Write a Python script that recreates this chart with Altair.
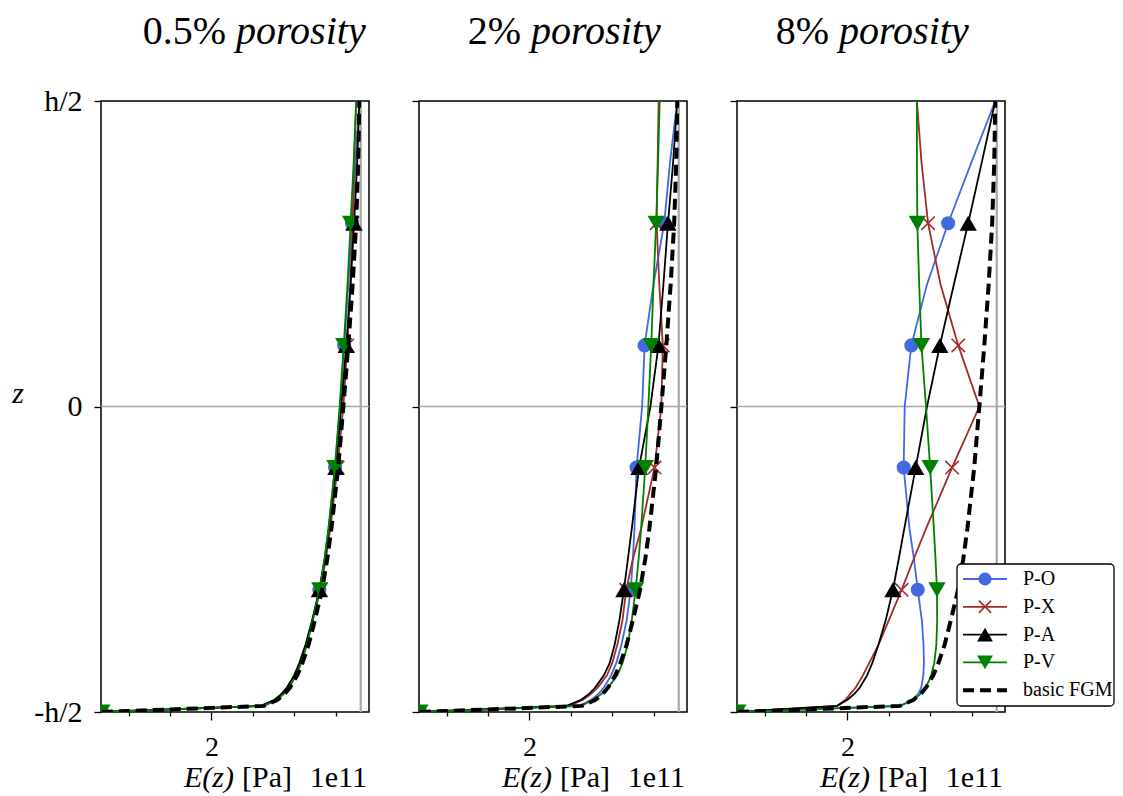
import altair as alt
import pandas as pd

FONT = "Liberation Serif"

# z / h positions of the sampled points
Z = [-0.5, -0.49, -0.48, -0.47, -0.46, -0.44, -0.42, -0.39, -0.35, -0.3,
     -0.25, -0.2, -0.1, 0.0, 0.1, 0.2, 0.3, 0.4, 0.5]
MARK_Z = [-0.5, -0.3, -0.1, 0.1, 0.3]

# basic FGM (same in every panel), E in units of 1e11 Pa
FGM = [1.47, 2.255, 2.32, 2.355, 2.38, 2.415, 2.44, 2.47, 2.50, 2.535,
       2.56, 2.58, 2.613, 2.638, 2.662, 2.683, 2.70, 2.71, 2.715]

# 0.5 % porosity
PO_05 = [1.47, 2.25, 2.313, 2.347, 2.371, 2.405, 2.43, 2.458, 2.488, 2.522,
         2.547, 2.566, 2.598, 2.622, 2.642, 2.662, 2.68, 2.697, 2.715]
PX_05 = [1.47, 2.245, 2.31, 2.343, 2.368, 2.402, 2.428, 2.458, 2.49, 2.527,
         2.553, 2.575, 2.61, 2.638, 2.657, 2.672, 2.683, 2.69, 2.70]
PA_05 = [1.47, 2.24, 2.305, 2.34, 2.365, 2.40, 2.425, 2.455, 2.487, 2.522,
         2.548, 2.568, 2.602, 2.628, 2.652, 2.673, 2.69, 2.705, 2.715]
PV_05 = [1.47, 2.255, 2.318, 2.352, 2.376, 2.41, 2.434, 2.462, 2.49, 2.524,
         2.547, 2.566, 2.597, 2.62, 2.64, 2.658, 2.673, 2.688, 2.70]

# 2 % porosity
PO_2 = [1.47, 2.24, 2.30, 2.335, 2.36, 2.395, 2.42, 2.445, 2.47, 2.49,
        2.50, 2.508, 2.518, 2.545, 2.557, 2.60, 2.652, 2.68, 2.715]
PX_2 = [1.47, 2.19, 2.26, 2.30, 2.33, 2.375, 2.40, 2.425, 2.45, 2.468,
        2.50, 2.54, 2.605, 2.638, 2.645, 2.628, 2.615, 2.62, 2.625]
PA_2 = [1.47, 2.18, 2.25, 2.29, 2.318, 2.36, 2.388, 2.412, 2.435, 2.457,
        2.476, 2.495, 2.53, 2.585, 2.624, 2.648, 2.67, 2.695, 2.715]
PV_2 = [1.47, 2.25, 2.31, 2.35, 2.38, 2.425, 2.45, 2.475, 2.495, 2.513,
        2.528, 2.54, 2.56, 2.575, 2.589, 2.60, 2.613, 2.622, 2.63]

# 8 % porosity
PO_8 = [1.47, 2.255, 2.317, 2.343, 2.357, 2.367, 2.37, 2.368, 2.36, 2.34,
        2.322, 2.30, 2.272, 2.277, 2.309, 2.385, 2.487, 2.60, 2.715]
PX_8 = [1.47, 1.95, 1.99, 2.015, 2.04, 2.075, 2.105, 2.15, 2.20, 2.262,
        2.32, 2.38, 2.506, 2.638, 2.536, 2.45, 2.39, 2.358, 2.336]
PA_8 = [1.47, 1.95, 2.0, 2.035, 2.06, 2.095, 2.12, 2.15, 2.185, 2.22,
        2.248, 2.275, 2.33, 2.385, 2.447, 2.515, 2.584, 2.65, 2.715]
PV_8 = [1.47, 2.255, 2.32, 2.355, 2.38, 2.405, 2.42, 2.43, 2.434, 2.433,
        2.426, 2.418, 2.40, 2.38, 2.358, 2.347, 2.338, 2.336, 2.336]

PANELS = [
    [PO_05, PX_05, PA_05, PV_05, FGM],
    [PO_2, PX_2, PA_2, PV_2, FGM],
    [PO_8, PX_8, PA_8, PV_8, FGM],
]
PANEL_PCT = ["0.5%", "2%", "8%"]
SERIES = ["P-O", "P-X", "P-A", "P-V", "basic FGM"]
COLORS = {"P-O": "#4169e1", "P-X": "#a52a2a", "P-A": "#000000",
          "P-V": "#008000", "basic FGM": "#000000"}
X_PATH = "M-1,-1L1,1M-1,1L1,-1"
SHAPES = {"P-O": "circle", "P-X": X_PATH, "P-A": "triangle-up", "P-V": "triangle-down"}
SIZES = {"P-O": 200, "P-X": 180, "P-A": 300, "P-V": 300}

XTICKS = [1.6, 1.8, 2.0, 2.2, 2.4, 2.6]
YTICKS = [-0.5, 0.0, 0.5]
XDOM = [1.466, 2.762]
YDOM = [-0.5, 0.5]
ZERO_LINE = [0.0]
EC_LINE = [2.722]

rows = []
for pi, pdata in enumerate(PANELS):
    for sname, vals in zip(SERIES, pdata):
        for z, e in zip(Z, vals):
            rows.append({"panel": pi, "series": sname, "z": z, "E": e,
                         "mk": z in MARK_Z})
df = pd.DataFrame(rows)

W, H = 268, 611

XS = alt.Scale(domain=XDOM, nice=False, zero=False)
YS = alt.Scale(domain=YDOM, nice=False, zero=False)

XAX = alt.Axis(values=XTICKS, labelExpr="datum.value == 2 ? '2' : ''",
               tickSize={"condition": {"test": "datum.value == 2", "value": 8}, "value": 4},
               labelFont=FONT, labelFontSize=28, labelColor="black",
               labelPadding=13, tickColor="black", tickWidth=1.3,
               domain=False, grid=False, title=None)


def yaxis(labels):
    return alt.Axis(values=YTICKS,
                    labelExpr="datum.value > 0.25 ? 'h/2' : (datum.value < -0.25 ? '-h/2' : '0')",
                    labels=labels, tickSize=7, labelFont=FONT, labelFontSize=30,
                    labelColor="black", labelPadding=12, tickColor="black",
                    tickWidth=1.3, domain=False, grid=False, title=None)


def one(**kw):
    return alt.Chart(pd.DataFrame([kw]))


def make_panel(pi):
    d = df[df.panel == pi]
    X = alt.X("E:Q", scale=XS, axis=XAX)
    Y = alt.Y("z:Q", scale=YS, axis=yaxis(pi == 0))
    layers = []
    layers.append(alt.Chart(pd.DataFrame({"z": ZERO_LINE}))
                  .mark_rule(color="#a8a8a8", strokeWidth=1.4).encode(y=Y))
    layers.append(alt.Chart(pd.DataFrame({"E": EC_LINE}))
                  .mark_rule(color="#a8a8a8", strokeWidth=2.2).encode(x=X))
    for s in SERIES:
        ds = d[d.series == s]
        if s == "basic FGM":
            layers.append(alt.Chart(ds).mark_line(color="black", strokeWidth=4,
                                                  strokeDash=[11, 6], clip=True)
                          .encode(x=X, y=Y, order=alt.Order("z:Q")))
            continue
        layers.append(alt.Chart(ds).mark_line(color=COLORS[s], strokeWidth=1.8, clip=True)
                      .encode(x=X, y=Y, order=alt.Order("z:Q")))
        pts = ds[ds.mk]
        if s == "P-X":
            pm = alt.Chart(pts).mark_point(shape=SHAPES[s], size=SIZES[s], filled=False,
                                           stroke=COLORS[s], strokeWidth=1.6,
                                           opacity=1, clip=True)
        else:
            pm = alt.Chart(pts).mark_point(shape=SHAPES[s], size=SIZES[s], filled=True,
                                           fill=COLORS[s], opacity=1, clip=True)
        layers.append(pm.encode(x=X, y=Y))

    # panel title: "<pct>" upright + "porosity" italic
    anchors = [(125, 135), (102, 112), (92, 102)]
    a1, a2 = anchors[pi]
    layers.append(one(t=PANEL_PCT[pi]).mark_text(font=FONT, fontSize=40, align="right",
                                                 baseline="alphabetic", color="black")
                  .encode(x=alt.value(a1), y=alt.value(-57), text="t:N"))
    layers.append(one(t="porosity").mark_text(font=FONT, fontSize=40, fontStyle="italic",
                                              align="left", baseline="alphabetic", color="black")
                  .encode(x=alt.value(a2), y=alt.value(-57), text="t:N"))
    # x axis label
    layers.append(one(t="E(z)").mark_text(font=FONT, fontSize=30, fontStyle="italic",
                                          align="right", baseline="middle", color="black")
                  .encode(x=alt.value(133), y=alt.value(677), text="t:N"))
    layers.append(one(t="[Pa]").mark_text(font=FONT, fontSize=30, align="left",
                                          baseline="middle", color="black")
                  .encode(x=alt.value(141), y=alt.value(677), text="t:N"))
    layers.append(one(t="1e11").mark_text(font=FONT, fontSize=30, align="right",
                                          baseline="middle", color="black")
                  .encode(x=alt.value(266), y=alt.value(677), text="t:N"))

    if pi == 0:
        layers.append(one(t="z").mark_text(font=FONT, fontSize=30, fontStyle="italic",
                                           align="center", baseline="middle", color="black")
                      .encode(x=alt.value(-83), y=alt.value(293), text="t:N"))
        # invisible anchor fixing the top-left corner of the page
        layers.append(one(t="a").mark_rule(opacity=0)
                      .encode(x=alt.value(-100), x2=alt.value(-99), y=alt.value(-100)))

    if pi == 2:
        layers.append(one(t="box").mark_rect(fill="white", stroke="black", strokeWidth=1.3,
                                             cornerRadius=4)
                      .encode(x=alt.value(220), x2=alt.value(377),
                              y=alt.value(463), y2=alt.value(605)))
        for i, s in enumerate(SERIES):
            yy = 478 + i * 27.8
            if s == "basic FGM":
                layers.append(one(t=s).mark_rule(color="black", strokeWidth=4, strokeDash=[11, 6])
                              .encode(x=alt.value(226), x2=alt.value(270), y=alt.value(yy)))
            else:
                layers.append(one(t=s).mark_rule(color=COLORS[s], strokeWidth=1.8)
                              .encode(x=alt.value(226), x2=alt.value(270), y=alt.value(yy)))
                if s == "P-X":
                    layers.append(one(t=s).mark_point(shape=SHAPES[s], size=150, filled=False,
                                                      stroke=COLORS[s], strokeWidth=1.6, opacity=1)
                                  .encode(x=alt.value(248), y=alt.value(yy)))
                else:
                    sz = 170 if s == "P-O" else 250
                    layers.append(one(t=s).mark_point(shape=SHAPES[s], size=sz, filled=True,
                                                      fill=COLORS[s], opacity=1)
                                  .encode(x=alt.value(248), y=alt.value(yy)))
            layers.append(one(t=s).mark_text(font=FONT, fontSize=20, align="left",
                                             baseline="middle", color="black")
                          .encode(x=alt.value(286), y=alt.value(yy), text="t:N"))

    return alt.layer(*layers).properties(width=W, height=H)


chart = alt.hconcat(make_panel(0), make_panel(1), make_panel(2),
                    spacing=50, bounds="flush").properties(
    padding=0, background="white"
).configure_view(stroke="black", strokeWidth=1.5)

chart.save("out.html", embed_options={"renderer": "svg", "actions": False})
